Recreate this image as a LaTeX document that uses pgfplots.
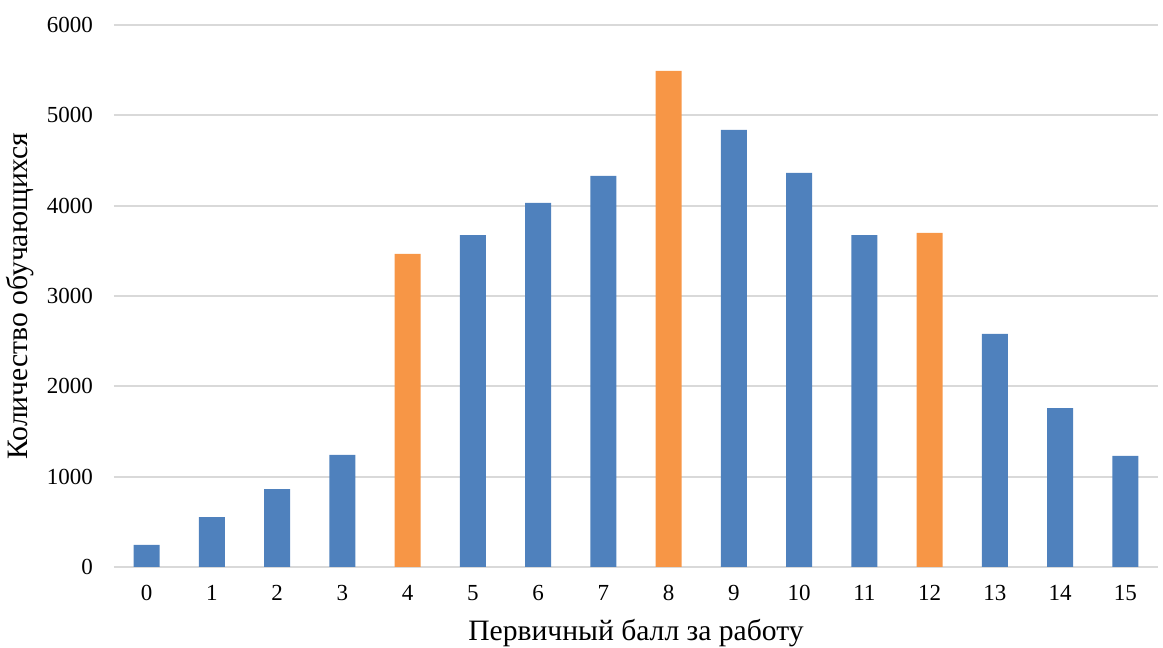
\documentclass[border=0pt]{standalone}
\usepackage{pgfplots}
\pgfplotsset{compat=1.18}
\usepackage{fontspec}
\setmainfont{Liberation Serif}
\definecolor{barblue}{HTML}{4F81BD}
\definecolor{barorange}{HTML}{F79646}
\definecolor{gridgray}{HTML}{D9D9D9}
\begin{document}
\fontsize{11.5}{13.8}\selectfont
\begin{tikzpicture}
\begin{axis}[
  scale only axis,
  width=522pt, height=271pt,
  xmin=-0.5, xmax=15.5,
  ymin=0, ymax=6000,
  xtick={0,...,15},
  ytick={0,1000,...,6000},
  /pgf/number format/assume math mode=true,
  /pgf/number format/1000 sep={},
  ymajorgrids,
  grid style={gridgray, line width=1pt},
  axis line style={draw=none},
  major tick length=0pt,
  tick style={draw=none},
  ybar, bar width=0.4, bar shift=0pt,
  ylabel={\fontsize{14.8}{17}\selectfont Количество обучающихся},
  xlabel={\fontsize{14.8}{17}\selectfont Первичный балл за работу},
  every axis y label/.style={at={(axis description cs:-0.09,0.5)}, rotate=90, anchor=center},
  every axis x label/.style={at={(axis description cs:0.5,-0.1218)}, anchor=center},
  yticklabel style={xshift=-6.5pt},
  xticklabel style={yshift=-5pt},
  clip=false,
]
\addplot[fill=barblue, draw=none] coordinates {
 (0,244) (1,553) (2,863) (3,1240) (5,3675) (6,4030) (7,4329)
 (9,4838) (10,4362) (11,3675) (13,2580) (14,1760) (15,1229)};
\addplot[fill=barorange, draw=none] coordinates {
 (4,3465) (8,5491) (12,3698)};
\end{axis}
\pgfresetboundingbox
\path ([shift={(-57pt,-40.5pt)}]current axis.south west) rectangle ([shift={(2.5pt,12.5pt)}]current axis.north east);
\end{tikzpicture}
\end{document}
